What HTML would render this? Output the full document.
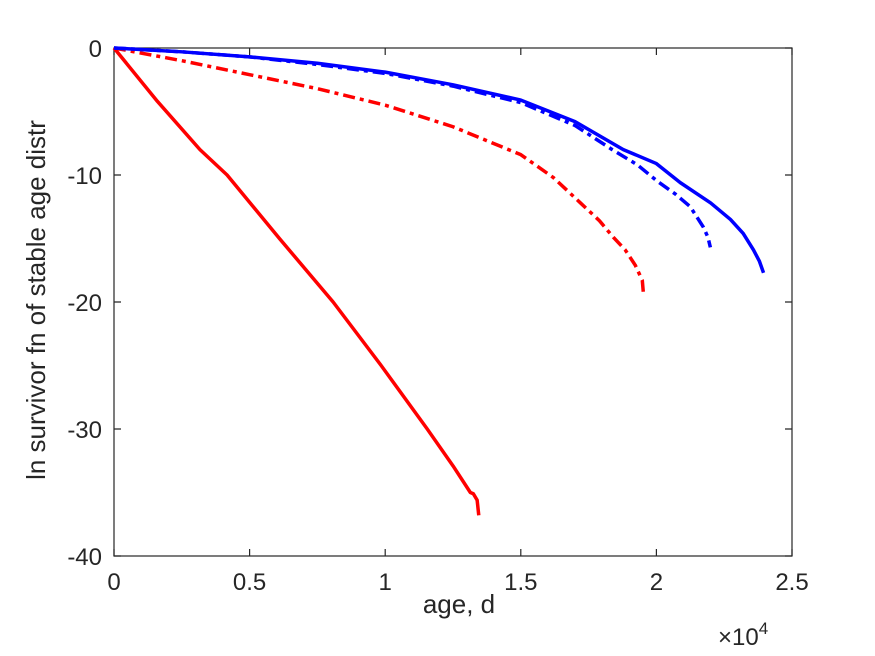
<!DOCTYPE html>
<html><head><meta charset="utf-8"><style>body{margin:0;background:#fff}svg{display:block;font-family:"Liberation Sans",sans-serif}</style></head>
<body>
<svg id="c" width="875" height="656">
<rect width="875" height="656" fill="#fff"/>
<g id="plot"></g>
<text x="459" y="613" font-size="26" text-anchor="middle" fill="#262626">age, d</text>
<text transform="translate(45,300) rotate(-90)" font-size="26" text-anchor="middle" fill="#262626">ln survivor fn of stable age distr</text>
<text x="718" y="645" font-size="24" fill="#262626">×10<tspan dy="-11" font-size="17">4</tspan></text>
</svg>
<script>
const xTicks=[0,5000,10000,15000,20000,25000];
const xTickLabels=["0","0.5","1","1.5","2","2.5"];
const yTicks=[0,-10,-20,-30,-40];
const yTickLabels=["0","-10","-20","-30","-40"];
const blueSolidX=[0,2500,5000,7500,10000,12500,15000,17000,18780,20000,20880,22000,22730,23200,23580,23800,23950];
const blueSolidY=[0,-0.3,-0.7,-1.2,-1.9,-2.9,-4.1,-5.8,-8.0,-9.1,-10.6,-12.2,-13.5,-14.6,-15.9,-16.8,-17.7];
const blueDashX=[0,2500,5000,7500,10000,12500,15000,17000,18370,19300,20040,20700,21250,21730,21900,21990];
const blueDashY=[0,-0.3,-0.7,-1.3,-2.0,-3.0,-4.3,-6.1,-8.0,-9.2,-10.5,-11.5,-12.5,-14.1,-14.9,-15.7];
const redDashX=[0,2500,5000,7500,10000,12500,15000,16200,17200,17900,18410,18850,19220,19480,19520];
const redDashY=[0,-1.0,-2.1,-3.2,-4.5,-6.2,-8.4,-10.2,-12.2,-13.6,-14.9,-15.9,-17.1,-18.3,-19.3];
const redSolidX=[0,1600,3170,4170,6100,8080,9850,11550,12500,13140,13250,13390,13420,13450];
const redSolidY=[0,-4.2,-8.0,-10,-15,-20,-25,-30,-32.9,-35.0,-35.1,-35.6,-36.2,-36.8];
const L=114,R=792,T=48,B=556;
const sx=v=>L+(v-0)/(25000)*(R-L);
const sy=v=>T+(0-v)/40*(B-T);
const NS="http://www.w3.org/2000/svg";
const g=document.getElementById('plot');
function mk(t,a){const e=document.createElementNS(NS,t);for(const k in a)e.setAttribute(k,a[k]);g.appendChild(e);return e;}
const box=mk('rect',{x:L,y:T,width:R-L,height:B-T,fill:'none',stroke:'#262626','stroke-width':1.2});


xTicks.forEach((v,i)=>{const x=sx(v);
 const t=mk('path',{d:`M${x},${B}v-7M${x},${T}v7`,stroke:'#262626','stroke-width':1.2});
 
 
 const l=mk('text',{x:x,y:B+34,'font-size':24,'text-anchor':'middle',fill:'#262626'});l.textContent=xTickLabels[i];
 
 });
yTicks.forEach((v,i)=>{const y=sy(v);
 const t=mk('path',{d:`M${L},${y}h7M${R},${y}h-7`,stroke:'#262626','stroke-width':1.2});
 
 
 const l=mk('text',{x:L-12,y:y+9,'font-size':24,'text-anchor':'end',fill:'#262626'});l.textContent=yTickLabels[i];
 
 });
function line(xs,ys,col,dash,name){
 const p=mk('path',{d:xs.map((x,i)=>(i?'L':'M')+sx(x)+','+sy(ys[i])).join(''),fill:'none',stroke:col,'stroke-width':3.5,'stroke-linejoin':'round','stroke-dasharray':dash||'none'});
 
 }
line(redSolidX,redSolidY,'#f00','','red-solid-line');
line(redDashX,redDashY,'#f00','12,5,4,5','red-dashdot-line');
line(blueDashX,blueDashY,'#00f','12,5,4,5','blue-dashdot-line');
line(blueSolidX,blueSolidY,'#00f','','blue-solid-line');
</script>
</body></html>
